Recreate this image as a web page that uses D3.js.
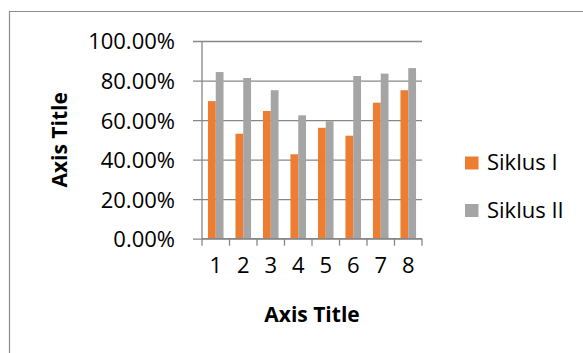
<!DOCTYPE html>
<html>
<head>
<meta charset="utf-8">
<script src="https://cdn.jsdelivr.net/npm/d3@7"></script>
<style>
  body { margin: 0; background: #fff; }
  svg { display: block; font-family: "Open Sans", sans-serif; }
</style>
</head>
<body>
<div id="chart"></div>
<script>
// Chart data
const categories = ["1", "2", "3", "4", "5", "6", "7", "8"];
const siklusI = [0.696, 0.531, 0.646, 0.427, 0.561, 0.521, 0.688, 0.751];
const siklusII = [0.843, 0.813, 0.751, 0.624, 0.594, 0.823, 0.835, 0.863];
const yTicks = [0, 0.2, 0.4, 0.6, 0.8, 1.0];
const seriesNames = ["Siklus I", "Siklus II"];
const seriesColors = ["#ED7D31", "#A5A5A5"];

const width = 583;
const height = 353;
const margin = { top: 41, left: 202, right: 161, bottom: 114.3 };
const gridColor = "#878787";

const svg = d3
  .select("#chart")
  .append("svg")
  .attr("width", width)
  .attr("height", height);

// Outer chart border (only top and left edges are visible)
svg.append("path")
  .attr("d", `M9.5,${height}V11.5H${width}`)
  .attr("fill", "none")
  .attr("stroke", "#8c8c8c")
  .attr("stroke-width", 1.2);

const x0 = d3
  .scaleBand()
  .domain(categories)
  .range([margin.left, width - margin.right])
  .padding(0);

const y = d3
  .scaleLinear()
  .domain([0, 1])
  .range([height - margin.bottom, margin.top]);

// Inner scale for the two bars in each group
const groupWidth = x0.bandwidth() * 0.566;
const x1 = d3
  .scaleBand()
  .domain(seriesNames)
  .range([(x0.bandwidth() - groupWidth) / 2, (x0.bandwidth() + groupWidth) / 2])
  .padding(0);

// Horizontal gridlines + y axis
const yAxis = d3
  .axisLeft(y)
  .tickValues(yTicks)
  .tickSize(-(width - margin.left - margin.right))
  .tickFormat(d3.format(".2%"));

const yg = svg.append("g")
  .attr("transform", `translate(${margin.left},0)`)
  .call(yAxis);
yg.select(".domain").remove();
yg.selectAll(".tick line")
  .attr("x1", -9)
  .attr("stroke", gridColor)
  .attr("stroke-width", 1.3);
yg.selectAll(".tick text")
  .attr("x", -27)
  .attr("dy", "0.36em")
  .attr("font-size", "22px")
  .attr("font-family", "Open Sans")
  .attr("fill", "#000");

// Vertical axis line
svg.append("line")
  .attr("x1", margin.left).attr("x2", margin.left)
  .attr("y1", margin.top).attr("y2", height - margin.bottom)
  .attr("stroke", gridColor)
  .attr("stroke-width", 1.3);

// Bars
const rows = categories.map((c, i) => ({ cat: c, values: [siklusI[i], siklusII[i]] }));

svg.append("g")
  .selectAll("g")
  .data(rows)
  .join("g")
  .attr("transform", (d) => `translate(${x0(d.cat)},0)`)
  .selectAll("rect")
  .data((d) => d.values.map((v, j) => ({ name: seriesNames[j], value: v, color: seriesColors[j] })))
  .join("rect")
  .attr("x", (d) => x1(d.name))
  .attr("width", x1.bandwidth())
  .attr("y", (d) => y(d.value))
  .attr("height", (d) => y(0) - y(d.value))
  .attr("fill", (d) => d.color);

// X axis with ticks between categories
const baseY = y(0);
const xg = svg.append("g")
  .attr("transform", `translate(0,${baseY})`)
  .call(d3.axisBottom(x0).tickSize(0).tickPadding(19));
xg.select(".domain")
  .attr("stroke", gridColor)
  .attr("stroke-width", 1.3)
  .attr("d", `M${margin.left},0H${width - margin.right}`);
xg.selectAll(".tick text")
  .attr("font-size", "22px")
  .attr("font-family", "Open Sans")
  .attr("fill", "#000");

const boundaries = categories.map((c) => x0(c)).concat([x0.range()[1]]);
svg.append("g")
  .selectAll("line")
  .data(boundaries)
  .join("line")
  .attr("x1", (d) => d).attr("x2", (d) => d)
  .attr("y1", baseY).attr("y2", baseY + 7)
  .attr("stroke", gridColor)
  .attr("stroke-width", 1.3);

// Axis titles
svg.append("text")
  .attr("x", (margin.left + width - margin.right) / 2)
  .attr("y", 322)
  .attr("text-anchor", "middle")
  .attr("font-size", "21px")
  .attr("font-weight", "bold")
  .text("Axis Title");

svg.append("text")
  .attr("transform", `translate(67,${(margin.top + baseY) / 2}) rotate(-90)`)
  .attr("text-anchor", "middle")
  .attr("font-size", "21px")
  .attr("font-weight", "bold")
  .text("Axis Title");

// Legend
const legend = svg.append("g")
  .attr("transform", "translate(465,156.5)");

const items = legend.selectAll("g")
  .data(seriesNames)
  .join("g")
  .attr("transform", (d, i) => `translate(0,${i * 47.5})`);

items.append("rect")
  .attr("width", 13.5)
  .attr("height", 13)
  .attr("fill", (d, i) => seriesColors[i]);

items.append("text")
  .attr("x", 22)
  .attr("y", 13.5)
  .attr("font-size", "22px")
  .attr("fill", "#000")
  .text((d) => d);
</script>
</body>
</html>
